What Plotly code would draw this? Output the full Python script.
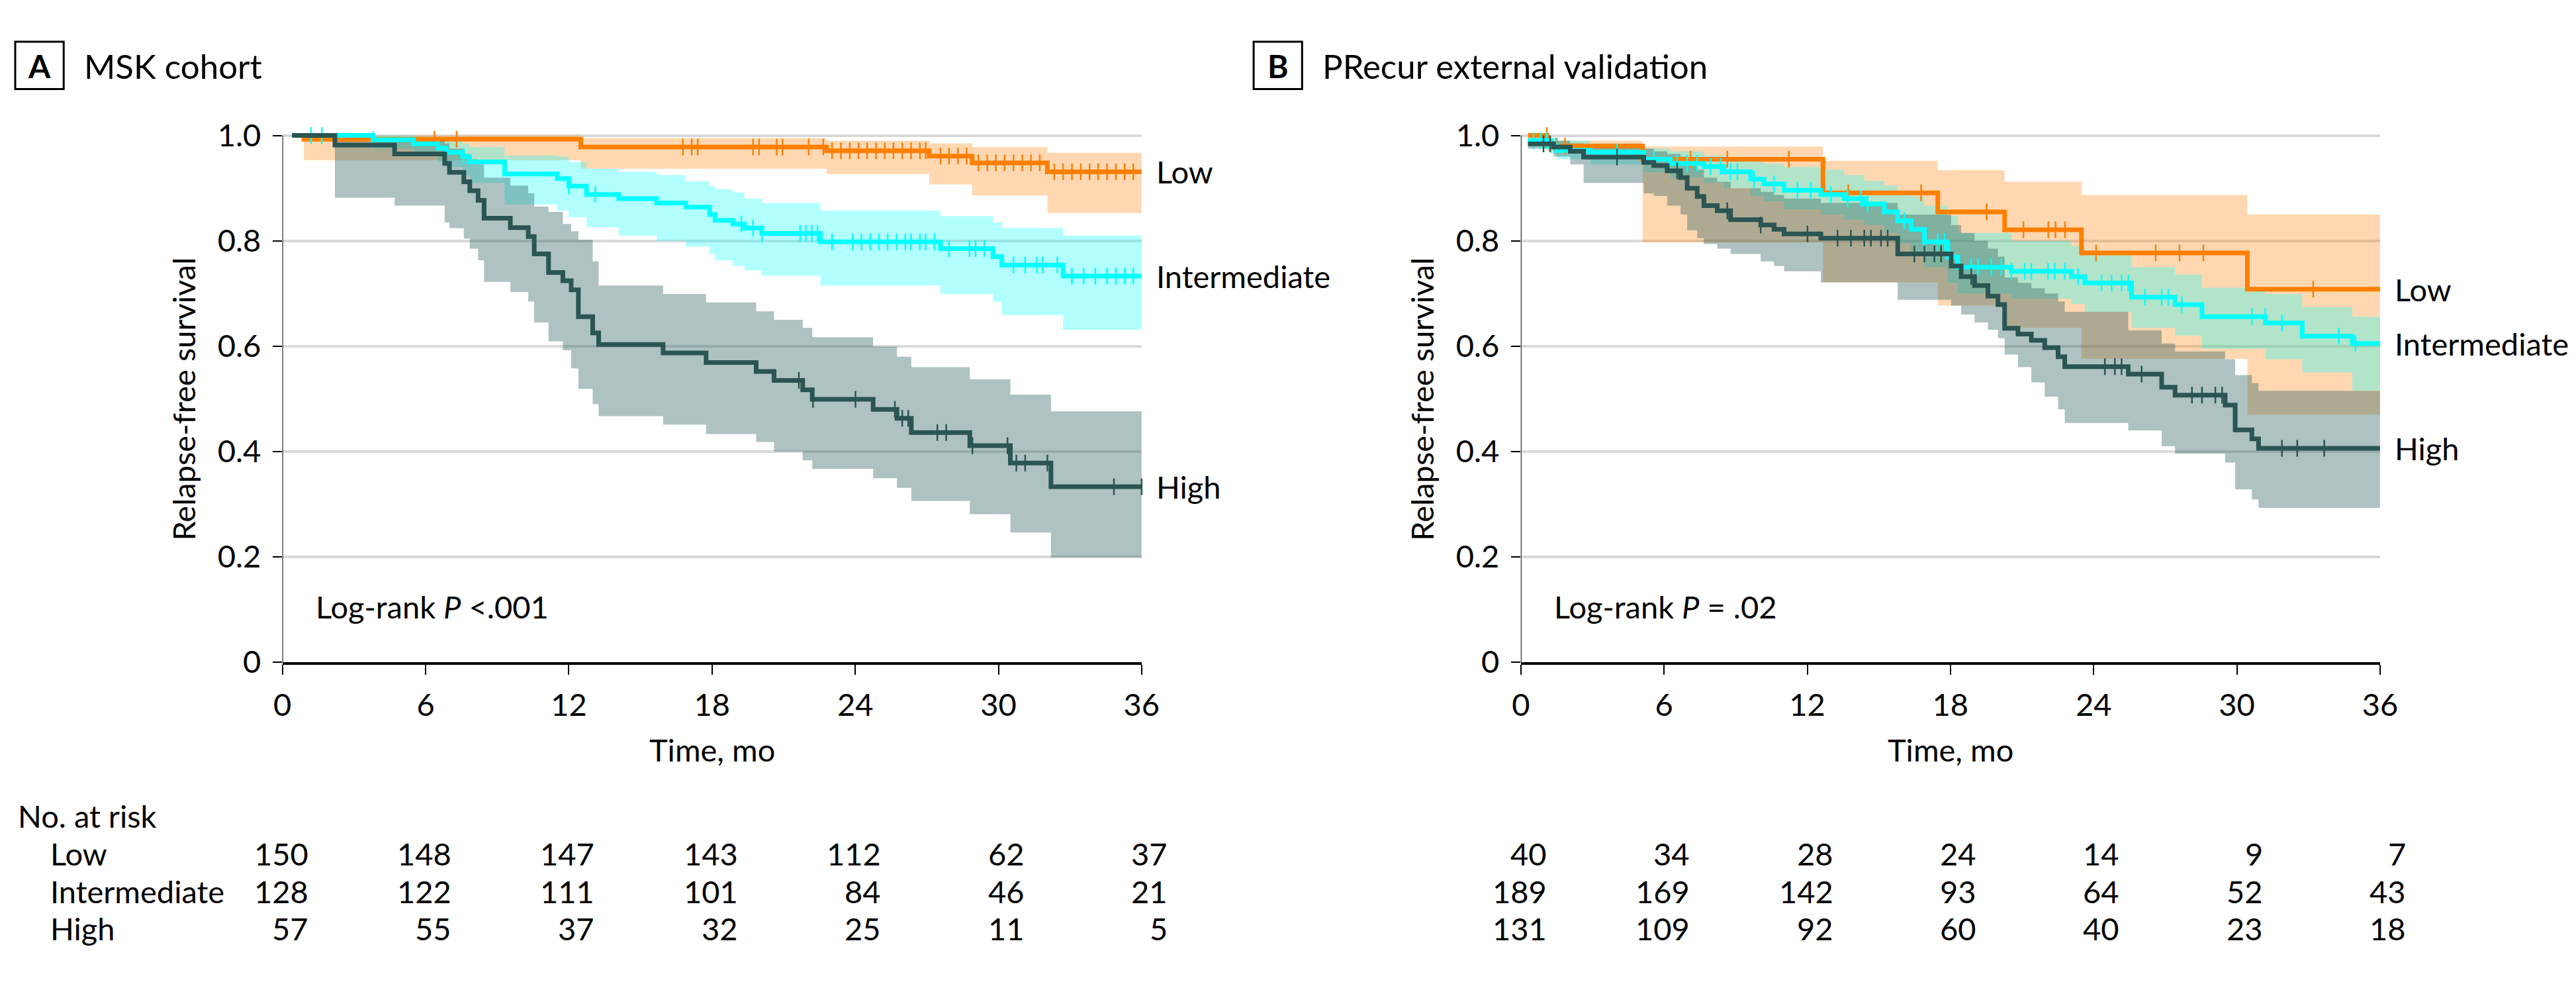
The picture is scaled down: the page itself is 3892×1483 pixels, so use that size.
import plotly.graph_objects as go

# ---------------- data ----------------
RISK_TIMES = [0, 6, 12, 18, 24, 30, 36]
GROUPS = ["Low", "Intermediate", "High"]

# Panel A : MSK cohort (step start times, survival, 95% CI)
A_low_t = [0.4, 0.9, 12.5, 22.8, 27.1, 28.9, 32.05]
A_low_s = [1.0, 0.993, 0.978, 0.971, 0.961, 0.948, 0.931]
A_low_lo = [1.0, 0.953, 0.937, 0.927, 0.907, 0.886, 0.853]
A_low_hi = [1.0, 1.0, 0.995, 0.99, 0.985, 0.978, 0.967]

A_int_t = [0.4, 3.8, 5.5, 6.5, 6.86, 7.55, 7.84, 9.31, 11.52, 12.0, 12.74, 14.09, 15.68, 16.9,
           17.9, 18.13, 18.87, 19.36, 20.09, 22.54, 27.57, 29.77, 30.14, 32.71]
A_int_s = [1.0, 0.992, 0.984, 0.976, 0.968, 0.96, 0.950, 0.927, 0.918, 0.904, 0.888, 0.880, 0.872,
           0.864, 0.85, 0.839, 0.832, 0.824, 0.814, 0.798, 0.785, 0.77, 0.754, 0.733]
A_int_lo = [1.0, 0.975, 0.962, 0.95, 0.94, 0.925, 0.91, 0.869, 0.857, 0.845, 0.826, 0.810, 0.800,
            0.789, 0.775, 0.763, 0.752, 0.744, 0.734, 0.715, 0.699, 0.685, 0.659, 0.631]
A_int_hi = [1.0, 1.0, 0.998, 0.995, 0.99, 0.985, 0.978, 0.962, 0.96, 0.95, 0.937, 0.931, 0.925,
            0.913, 0.904, 0.898, 0.892, 0.880, 0.872, 0.857, 0.847, 0.835, 0.824, 0.810]

A_high_t = [0.4, 2.2, 4.7, 6.8, 7.0, 7.6, 7.85, 8.2, 8.45, 9.55, 10.3, 10.55, 11.15, 11.75, 12.1,
            12.4, 13.0, 13.25, 15.95, 17.75, 19.85, 20.6, 21.8, 22.2, 24.75, 25.75, 26.35, 28.8,
            30.5, 32.2]
A_high_s = [1.0, 0.982, 0.965, 0.947, 0.930, 0.912, 0.895, 0.877, 0.843, 0.825, 0.808, 0.775, 0.740,
            0.724, 0.707, 0.656, 0.625, 0.603, 0.587, 0.569, 0.552, 0.535, 0.517, 0.499, 0.480,
            0.463, 0.436, 0.411, 0.378, 0.333]
A_high_lo = [1.0, 0.882, 0.867, 0.835, 0.824, 0.804, 0.785, 0.763, 0.722, 0.703, 0.685, 0.645, 0.609,
             0.592, 0.558, 0.519, 0.49, 0.467, 0.451, 0.433, 0.418, 0.400, 0.383, 0.367, 0.349,
             0.331, 0.306, 0.281, 0.246, 0.199]
A_high_hi = [1.0, 0.997, 0.99, 0.985, 0.975, 0.965, 0.955, 0.945, 0.92, 0.905, 0.89, 0.865, 0.855,
             0.832, 0.818, 0.802, 0.761, 0.715, 0.699, 0.683, 0.666, 0.650, 0.635, 0.617, 0.599,
             0.580, 0.560, 0.537, 0.508, 0.476]

A_low_cens = [6.37, 7.3, 16.78, 17.15, 17.4, 19.72, 19.97, 20.71, 20.95, 22.05, 22.66, 23.03, 23.4,
              23.77, 24.14, 24.5, 24.87, 25.24, 25.6, 25.97, 26.34, 26.71, 26.95, 27.57, 27.93, 28.3,
              28.67, 29.16, 29.53, 29.89, 30.26, 30.63, 31.0, 31.36, 31.73, 32.34, 32.71, 33.08,
              33.45, 33.82, 34.18, 34.55, 34.92, 35.29, 35.65]
A_int_cens = [1.2, 1.65, 3.8, 7.59, 12.0, 13.11, 19.23, 19.72, 20.09, 21.69, 21.93, 22.18, 22.42,
              23.03, 23.89, 24.26, 24.63, 24.99, 25.36, 25.73, 26.1, 26.34, 26.71, 26.95, 27.32,
              27.93, 28.79, 29.04, 29.41, 30.63, 31.12, 31.61, 31.86, 32.47, 33.08, 33.57, 34.06,
              34.55, 34.92, 35.29, 35.65]
A_high_cens = [21.64, 22.23, 24.01, 25.66, 25.97, 26.22, 27.44, 27.81, 28.91, 30.38, 30.75, 31.12,
               32.05, 34.84, 36.0]

A_risk_low = [150, 148, 147, 143, 112, 62, 37]
A_risk_int = [128, 122, 111, 101, 84, 46, 21]
A_risk_high = [57, 55, 37, 32, 25, 11, 5]

# Panel B : PRecur external validation
B_low_t = [0.3, 1.1, 5.1, 12.66, 17.47, 20.27, 23.49, 30.44]
B_low_s = [1.0, 0.98, 0.955, 0.891, 0.855, 0.821, 0.777, 0.708]
B_low_lo = [1.0, 0.97, 0.797, 0.721, 0.677, 0.635, 0.576, 0.47]
B_low_hi = [1.0, 0.99, 0.979, 0.952, 0.934, 0.912, 0.887, 0.850]

B_int_t = [0.3, 1.24, 1.51, 2.91, 5.15, 6.27, 7.67, 8.51, 9.63, 10.19, 11.03, 12.57, 13.55, 14.39,
           15.23, 15.79, 16.35, 16.91, 17.89, 18.31, 20.55, 23.07, 23.63, 25.59, 27.41, 28.54,
           31.2, 32.74, 34.84]
B_int_s = [0.99, 0.98, 0.972, 0.968, 0.955, 0.947, 0.941, 0.931, 0.917, 0.908, 0.896, 0.888, 0.880,
           0.870, 0.855, 0.838, 0.822, 0.798, 0.769, 0.750, 0.742, 0.732, 0.720, 0.693, 0.679,
           0.656, 0.644, 0.619, 0.605]
B_int_lo = [0.98, 0.965, 0.955, 0.945, 0.93, 0.92, 0.91, 0.90, 0.885, 0.875, 0.86, 0.85, 0.84, 0.83,
            0.815, 0.795, 0.775, 0.75, 0.72, 0.70, 0.69, 0.68, 0.665, 0.635, 0.62, 0.595, 0.575,
            0.55, 0.515]
B_int_hi = [1.0, 0.995, 0.99, 0.985, 0.975, 0.97, 0.962, 0.958, 0.95, 0.946, 0.94, 0.935, 0.925,
            0.914, 0.905, 0.895, 0.884, 0.867, 0.847, 0.815, 0.80, 0.79, 0.777, 0.75, 0.736, 0.711,
            0.699, 0.674, 0.656]

B_high_t = [0.3, 1.37, 2.07, 2.63, 5.15, 5.57, 6.13, 6.69, 6.97, 7.39, 7.67, 8.23, 8.79, 10.05,
            10.61, 11.03, 12.57, 15.79, 18.03, 18.45, 19.01, 19.57, 19.99, 20.27, 20.83, 21.39,
            21.95, 22.51, 22.79, 25.45, 26.85, 27.41, 29.51, 29.93, 30.63, 30.91]
B_high_s = [0.984, 0.978, 0.970, 0.959, 0.949, 0.943, 0.933, 0.92, 0.900, 0.884, 0.867, 0.857, 0.840,
            0.83, 0.822, 0.813, 0.805, 0.775, 0.752, 0.732, 0.715, 0.695, 0.679, 0.634, 0.623,
            0.611, 0.597, 0.580, 0.561, 0.547, 0.522, 0.507, 0.488, 0.441, 0.424, 0.406]
B_high_lo = [0.975, 0.96, 0.945, 0.91, 0.89, 0.885, 0.867, 0.85, 0.82, 0.805, 0.794, 0.785, 0.775,
             0.761, 0.752, 0.742, 0.721, 0.688, 0.677, 0.66, 0.645, 0.631, 0.615, 0.584, 0.56,
             0.531, 0.504, 0.48, 0.454, 0.44, 0.41, 0.396, 0.379, 0.328, 0.309, 0.293]
B_high_hi = [0.995, 0.99, 0.985, 0.98, 0.975, 0.97, 0.965, 0.96, 0.945, 0.935, 0.92, 0.912, 0.90,
             0.893, 0.887, 0.88, 0.872, 0.85, 0.83, 0.815, 0.80, 0.785, 0.77, 0.73, 0.72, 0.71, 0.70,
             0.685, 0.665, 0.63, 0.605, 0.59, 0.575, 0.545, 0.53, 0.515]

B_low_cens = [1.09, 1.51, 1.85, 7.11, 8.65, 11.23, 13.72, 16.77, 19.52, 21.06, 22.1, 22.4, 22.8,
              24.1, 26.6, 27.6, 28.6, 33.2]
B_int_cens = [0.53, 0.81, 1.09, 1.46, 4.03, 5.57, 6.55, 6.97, 7.39, 7.95, 8.37, 8.79, 9.07, 9.77,
              10.61, 11.59, 12.15, 12.99, 13.69, 14.25, 14.53, 16.07, 16.91, 17.47, 17.75, 18.87,
              19.15, 19.71, 20.13, 20.55, 21.11, 21.39, 22.09, 22.37, 22.79, 23.35, 24.33, 24.75,
              25.17, 25.45, 26.15, 26.85, 27.13, 27.69, 30.63, 31.19, 31.89, 34.27, 34.97]
B_high_cens = [0.95, 1.23, 4.03, 6.55, 8.65, 10.05, 12.01, 13.27, 13.83, 14.39, 14.67, 15.09, 15.37,
               16.49, 16.91, 17.33, 17.61, 18.87, 24.47, 24.89, 25.17, 26.01, 28.12, 28.54, 29.1,
               29.38, 31.89, 32.53, 33.66]

B_risk_low = [40, 34, 28, 24, 14, 9, 7]
B_risk_int = [189, 169, 142, 93, 64, 52, 43]
B_risk_high = [131, 109, 92, 60, 40, 23, 18]

# ---------------- styling ----------------
FONT = "Lato, 'Liberation Sans', sans-serif"
FS = 47
COLORS = {"Low": "#FF7F00", "Intermediate": "#00FFFF", "High": "#2A5552"}
BANDS = {"Low": "rgba(255,127,0,0.30)", "Intermediate": "rgba(0,255,255,0.30)",
         "High": "rgba(42,95,92,0.38)"}
W, H = 3892, 1483
T_MAX = 36


def step_at(t, times, surv):
    v = surv[0]
    for tt, ss in zip(times, surv):
        if tt <= t:
            v = ss
        else:
            break
    return v


def px_x(p):
    return p / W


def px_y(p):
    return (H - p) / H


panels = [
    dict(xa="x", ya="y", x0=409, title="MSK cohort", letter="A", logrank="Log-rank <i>P</i> <.001",
         curves=[("Low", A_low_t, A_low_s, A_low_lo, A_low_hi, A_low_cens),
                 ("Intermediate", A_int_t, A_int_s, A_int_lo, A_int_hi, A_int_cens),
                 ("High", A_high_t, A_high_s, A_high_lo, A_high_hi, A_high_cens)],
         risk=[A_risk_low, A_risk_int, A_risk_high]),
    dict(xa="x2", ya="y2", x0=2300, title="PRecur external validation", letter="B",
         logrank="Log-rank <i>P</i> = .02",
         curves=[("Low", B_low_t, B_low_s, B_low_lo, B_low_hi, B_low_cens),
                 ("Intermediate", B_int_t, B_int_s, B_int_lo, B_int_hi, B_int_cens),
                 ("High", B_high_t, B_high_s, B_high_lo, B_high_hi, B_high_cens)],
         risk=[B_risk_low, B_risk_int, B_risk_high]),
]

fig = go.Figure()
annotations = []
shapes = []
PLOT_W = 1312
Y0_PX, Y1_PX = 1008, 195.7   # pixel rows of survival 0 and 1.0
Y_TOP = 1.03
ROW_Y = [1303, 1361, 1419]

for p in panels:
    xa, ya = p["xa"], p["ya"]
    # confidence bands
    for name, t, s, lo, hi, cens in p["curves"]:
        fig.add_trace(go.Scatter(x=t + [T_MAX], y=lo + [lo[-1]], mode="lines",
                                 line=dict(width=0, shape="hv"), xaxis=xa, yaxis=ya,
                                 hoverinfo="skip", showlegend=False))
        fig.add_trace(go.Scatter(x=t + [T_MAX], y=hi + [hi[-1]], mode="lines",
                                 line=dict(width=0, shape="hv"), fill="tonexty",
                                 fillcolor=BANDS[name], xaxis=xa, yaxis=ya,
                                 hoverinfo="skip", showlegend=False))
    # survival curves + censor marks
    for name, t, s, lo, hi, cens in p["curves"]:
        fig.add_trace(go.Scatter(x=t + [T_MAX], y=s + [s[-1]], mode="lines",
                                 line=dict(width=7, shape="hv", color=COLORS[name]),
                                 xaxis=xa, yaxis=ya, name=name, showlegend=False))
        fig.add_trace(go.Scatter(x=cens, y=[step_at(c, t, s) for c in cens], mode="markers",
                                 marker=dict(symbol="line-ns-open", size=18, color=COLORS[name],
                                             line=dict(width=2.5, color=COLORS[name])),
                                 xaxis=xa, yaxis=ya, cliponaxis=False, showlegend=False,
                                 hoverinfo="skip"))
        annotations.append(dict(x=T_MAX, y=s[-1], xref=xa, yref=ya, text=name, showarrow=False,
                                xanchor="left", yanchor="middle", xshift=20,
                                font=dict(size=FS, color="black")))

    # y axis line drawn as a shape so it stops at 1.0
    shapes.append(dict(type="line", xref=xa, yref=ya, x0=0, x1=0, y0=0, y1=1.0,
                       line=dict(color="black", width=2)))

    x0 = p["x0"]
    # panel letter box + title
    shapes.append(dict(type="rect", xref="paper", yref="paper",
                       x0=px_x(x0 - 408), x1=px_x(x0 - 334), y0=px_y(124), y1=px_y(51),
                       line=dict(color="black", width=3)))
    annotations.append(dict(x=px_x(x0 - 371), y=px_y(88), xref="paper", yref="paper",
                            text="<b>%s</b>" % p["letter"], showarrow=False,
                            xanchor="center", yanchor="middle", font=dict(size=48)))
    annotations.append(dict(x=px_x(x0 - 305), y=px_y(88), xref="paper", yref="paper",
                            text=p["title"], showarrow=False, xanchor="left", yanchor="middle",
                            font=dict(size=51)))
    # axis titles
    annotations.append(dict(x=px_x(x0 - 151), y=px_y((Y0_PX + Y1_PX) / 2), xref="paper",
                            yref="paper", text="Relapse-free survival", textangle=-90,
                            showarrow=False, xanchor="center", yanchor="middle",
                            font=dict(size=FS)))
    annotations.append(dict(x=px_x(x0 + PLOT_W / 2), y=px_y(1143), xref="paper", yref="paper",
                            text="Time, mo", showarrow=False, xanchor="center",
                            yanchor="middle", font=dict(size=FS)))
    annotations.append(dict(x=1.35, y=0.105, xref=xa, yref=ya, text=p["logrank"],
                            showarrow=False, xanchor="left", yanchor="middle",
                            font=dict(size=FS)))
    # number at risk table
    for vals, ypx in zip(p["risk"], ROW_Y):
        for tt, v in zip(RISK_TIMES, vals):
            annotations.append(dict(x=tt, y=px_y(ypx), xref=xa, yref="paper", text=str(v),
                                    showarrow=False, xanchor="right", yanchor="middle",
                                    xshift=41, font=dict(size=FS)))

annotations.append(dict(x=px_x(3), y=px_y(1245), xref="paper", yref="paper", text="No. at risk",
                        showarrow=False, xanchor="left", yanchor="middle", font=dict(size=FS)))
for g, ypx in zip(GROUPS, ROW_Y):
    annotations.append(dict(x=px_x(53), y=px_y(ypx), xref="paper", yref="paper", text=g,
                            showarrow=False, xanchor="left", yanchor="middle",
                            font=dict(size=FS)))

xaxis_style = dict(range=[0, T_MAX], tickvals=RISK_TIMES, ticks="outside", ticklen=15,
                   tickwidth=2, tickcolor="black", showline=True, linewidth=4,
                   linecolor="black", showgrid=False, zeroline=False,
                   tickfont=dict(size=FS, color="black"), ticklabelstandoff=6)
yaxis_style = dict(range=[0, Y_TOP], tickvals=[0, 0.2, 0.4, 0.6, 0.8, 1.0],
                   ticktext=["0", "0.2", "0.4", "0.6", "0.8", "1.0"], ticks="outside",
                   ticklen=14, tickwidth=2, tickcolor="black", showline=False,
                   showgrid=True, gridcolor="#d9d9d9", gridwidth=4, zeroline=False,
                   tickfont=dict(size=FS, color="black"), ticklabelstandoff=8,
                   domain=[px_y(Y0_PX), px_y(Y0_PX - Y_TOP * (Y0_PX - Y1_PX))])

fig.update_layout(
    width=W, height=H,
    margin=dict(l=0, r=0, t=0, b=0),
    paper_bgcolor="white", plot_bgcolor="white",
    font=dict(family=FONT, size=FS, color="black"),
    showlegend=False,
    xaxis=dict(domain=[px_x(409), px_x(409 + PLOT_W)], anchor="y", **xaxis_style),
    yaxis=dict(anchor="x", **yaxis_style),
    xaxis2=dict(domain=[px_x(2300), px_x(2300 + PLOT_W)], anchor="y2", **xaxis_style),
    yaxis2=dict(anchor="x2", **yaxis_style),
    annotations=annotations,
    shapes=shapes,
)

fig.write_html("out.html")
